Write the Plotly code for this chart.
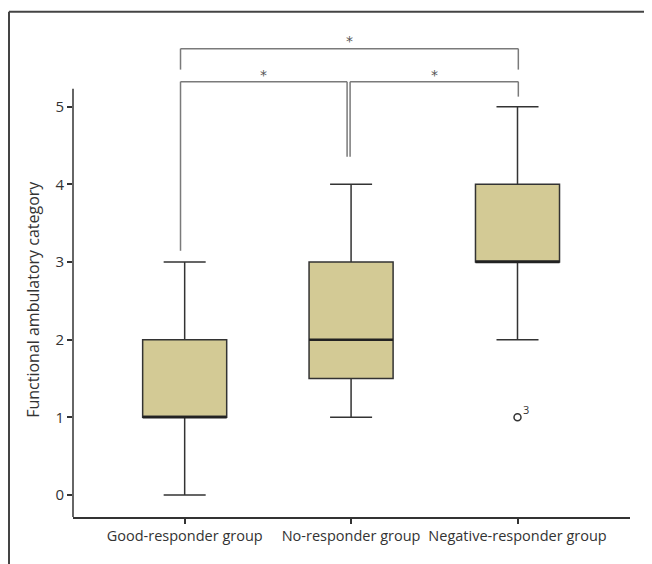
import plotly.graph_objects as go

groups = ["Good-responder group", "No-responder group", "Negative-responder group"]
lower_whisker = [0, 1, 2]
q1 = [1, 1.5, 3]
median = [1, 2, 3]
q3 = [2, 3, 4]
upper_whisker = [3, 4, 5]
outlier_group = ["Negative-responder group"]
outlier_value = [1]
outlier_label = ["3"]
y_ticks = [0, 1, 2, 3, 4, 5]

box_fill = "#D3CA95"
line_dark = "#333333"
bracket_col = "#7a7a7a"
BOX_W = 0.505

fig = go.Figure()
fig.add_trace(go.Box(
    x=groups, q1=q1, median=median, q3=q3,
    lowerfence=lower_whisker, upperfence=upper_whisker,
    fillcolor=box_fill, line=dict(color=line_dark, width=1.5),
    width=BOX_W, whiskerwidth=0.5, boxpoints=False, showlegend=False,
    hoverinfo="skip",
))
fig.add_trace(go.Scatter(
    x=outlier_group, y=outlier_value, mode="markers",
    marker=dict(symbol="circle-open", size=7, color=line_dark, line=dict(width=1.5)),
    showlegend=False,
))

shapes = []
# thicker median lines, from the median data
for i, m in enumerate(median):
    shapes.append(dict(type="line", xref="x", yref="y", x0=i - BOX_W / 2, x1=i + BOX_W / 2,
                       y0=m, y1=m, line=dict(color="#222222", width=2.5)))

# significance brackets (category index units / data units)
top_y, top_drop = 5.747, 5.477
low_y = 5.322
xl, xm1, xm2, xr = -0.025, 0.976, 0.994, 2.005
def seg(x0, y0, x1, y1):
    shapes.append(dict(type="line", xref="x", yref="y", x0=x0, y0=y0, x1=x1, y1=y1,
                       line=dict(color=bracket_col, width=1.5)))
seg(xl, top_y, xr, top_y)
seg(xl, top_y, xl, top_drop)
seg(xr, top_y, xr, top_drop)
seg(xl, low_y, xm1, low_y)
seg(xm2, low_y, xr, low_y)
seg(xl, low_y, xl, 3.144)
seg(xm1, low_y, xm1, 4.356)
seg(xm2, low_y, xm2, 4.356)
seg(xr, low_y, xr, 5.129)
# y axis line (partial)
shapes.append(dict(type="line", xref="paper", yref="y", x0=0, x1=0, y0=-0.284, y1=5.23,
                   line=dict(color=line_dark, width=1.5)))
# outer frame (left and top edges)
shapes.append(dict(type="line", xref="paper", yref="paper", x0=-0.1149, x1=1.1, y0=1.0355, y1=1.0355,
                   line=dict(color="#444444", width=2)))
shapes.append(dict(type="line", xref="paper", yref="paper", x0=-0.1149, x1=-0.1149, y0=1.0355, y1=-0.2,
                   line=dict(color="#444444", width=2)))

star_font = dict(size=14, color="#555555", family="DejaVu Sans")
annotations = [
    dict(x=(xl + xr) / 2, y=5.85, text="*", showarrow=False, xref="x", yref="y", font=star_font),
    dict(x=(xl + xm1) / 2, y=5.41, text="*", showarrow=False, xref="x", yref="y", font=star_font),
    dict(x=(xm2 + xr) / 2, y=5.41, text="*", showarrow=False, xref="x", yref="y", font=star_font),
    dict(x=outlier_group[0], y=outlier_value[0], text=outlier_label[0], showarrow=False,
         xref="x", yref="y", xshift=8, yshift=8,
         font=dict(size=11, color=line_dark, family="Open Sans")),
    dict(x=-0.0718, y=0.445, xref="paper", yref="paper", text="Functional ambulatory category",
         textangle=-90, showarrow=False, xanchor="center", yanchor="middle",
         font=dict(size=16, color=line_dark, family="Open Sans")),
]

fig.update_layout(
    width=644, height=556,
    margin=dict(l=65, r=22, t=21, b=47),
    plot_bgcolor="white", paper_bgcolor="white",
    shapes=shapes, annotations=annotations,
    font=dict(family="Open Sans", size=14, color=line_dark),
    xaxis=dict(type="category", range=[-0.671, 2.676], showline=True, linecolor=line_dark,
               linewidth=1.5, ticks="outside", ticklen=5, tickcolor=line_dark, tickwidth=1.5,
               showgrid=False, zeroline=False, tickfont=dict(size=14.5, color=line_dark)),
    yaxis=dict(range=[-0.284, 6.0], tickvals=y_ticks, showline=False, ticks="outside",
               ticklen=5, tickcolor=line_dark, tickwidth=1.5, showgrid=False, zeroline=False,
               tickfont=dict(size=15, color=line_dark)),
)

fig.write_html("out.html")
